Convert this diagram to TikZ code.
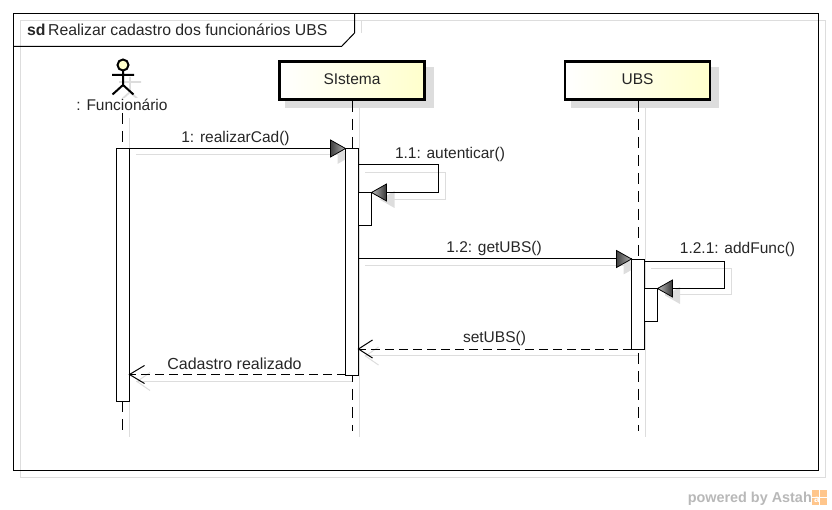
\documentclass[tikz,border=0pt]{standalone}
\usepackage{fontspec}
\setmainfont{Liberation Sans}
\usetikzlibrary{calc}
\definecolor{shad}{HTML}{DDDDDD}
\definecolor{paley}{HTML}{FFFFCC}
\tikzset{
  txt/.style={font=\fontsize{15.5}{18}\selectfont,inner sep=0pt,text=black!85},
  lifebox/.style={draw=black,line width=2.6pt,left color=white,right color=paley,minimum width=145pt,minimum height=38pt,inner sep=0pt,font=\fontsize{15.5}{18}\selectfont,text=black!85},
  act/.style={draw=black,fill=white,line width=0.9pt,minimum width=13pt,inner sep=0pt,outer sep=0pt,anchor=north west},
  msg/.style={draw=black,line width=1pt},
  ret/.style={draw=black,line width=1pt,dash pattern=on 9pt off 5pt},
  life/.style={draw=black,line width=1pt,dash pattern=on 11pt off 7pt},
  sh/.style={draw=shad,line width=1pt},
}
\newcommand{\headR}[1]{% tip right
  \shade[left color=black!75,right color=black!30] (#1)++(-15,-8.5) -- (#1) -- ++(-15,8.5) -- cycle;
  \draw[line width=.8pt,black] (#1)++(-15,-8.5) -- (#1) -- ++(-15,8.5) -- cycle;}
\newcommand{\headL}[1]{% tip left
  \shade[left color=black!25,right color=black!80] (#1)++(15,-8.5) -- (#1) -- ++(15,8.5) -- cycle;
  \draw[line width=.8pt,black] (#1)++(15,-8.5) -- (#1) -- ++(15,8.5) -- cycle;}
\newcommand{\shHeadR}[1]{\fill[shad] (#1)++(-8,-1.5) -- ++(15,8.5) -- ++(-15,8.5) -- cycle;}
\newcommand{\shHeadL}[1]{\fill[shad] (#1)++(22,-1.5) -- ++(-15,8.5) -- ++(15,8.5) -- cycle;}
\begin{document}
\begin{tikzpicture}[x=1pt,y=-1pt]
\useasboundingbox (0,0) rectangle (832,510);
% frame shadow and frame
\draw[sh] (20.5,20.5) rectangle (825.5,477);
\draw[sh] (361,20.5) -- (361,33);
\node[draw=black,line width=1pt,minimum width=805pt,minimum height=457pt,inner sep=0pt,outer sep=0pt,anchor=north west] (frame) at (13.5,13.5) {};
\coordinate (tabtop) at (354.5,13.5);
\coordinate (tabside) at (354.5,33);
\coordinate (tabdiag) at (341.5,46.5);
\coordinate (tableft) at (13.5,46.5);
\draw[black,line width=1pt] (tabtop) -- (tabside) -- (tabdiag) -- (tableft);
\node[txt,anchor=base west,font=\fontsize{15.8}{18}\selectfont] (title) at (27,36) {\textbf{sd}\hspace{2.5pt}Realizar cadastro dos funcionários UBS};
% lifeline shadows
\coordinate (ls1a) at (129.5,118); \coordinate (ls1b) at (129.5,437);
\coordinate (ls2a) at (359.5,108); \coordinate (ls2b) at (359.5,437);
\coordinate (ls3a) at (645.5,108); \coordinate (ls3b) at (645.5,437);
\draw[sh] (ls1a) -- (ls1b); \draw[sh] (ls2a) -- (ls2b); \draw[sh] (ls3a) -- (ls3b);
% box shadows
\fill[shad] (285,67) rectangle (434,108);
\fill[shad] (571,67) rectangle (719,108);
% actor shadow
\draw[shad,line width=1.8pt] (130,77) -- (130,92) (119,82) -- (141,82) (130,92) -- (120,101) (130,92) -- (140,101);
% lifelines
\coordinate (l1a) at (122.5,113); \coordinate (l1b) at (122.5,431);
\coordinate (l2b) at (352.5,431);
\coordinate (l3b) at (638.5,431);
\draw[life] (l1a) -- (l1b);
% lifeline heads
\node[lifebox] (sis) at (352,80.5) {\raisebox{3pt}{SIstema}};
\node[lifebox] (ubs) at (637.5,80.5) {\raisebox{3pt}{UBS}};
\draw[life] (sis.south -| l2b) -- (l2b);
\draw[life] (ubs.south -| l3b) -- (l3b);
% actor
\node[draw=black,fill=paley,circle,line width=2pt,minimum size=11pt,inner sep=0pt] (head) at (123,65) {};
\coordinate (neck) at (123,71);
\coordinate (hip) at (123,85);
\coordinate (armL) at (112,75); \coordinate (armR) at (134,75);
\coordinate (legL) at (112.5,94.5); \coordinate (legR) at (133.5,94.5);
\draw[black,line width=2pt] (neck) -- (hip) (armL) -- (armR) (legL) -- (hip) -- (legR);
\node[fill=white,txt,inner xsep=1pt,inner ysep=1pt] (actlabel) at (122,104.5) {: Funcionário};
% message shadows
\coordinate (m1s) at (136,155); \coordinate (m1e) at (345,155);
\draw[sh] (m1s) -- (m1e);
\coordinate (t1) at (345.5,148.5);
\shHeadR{t1}
\draw[sh] (365,172.5) -- (445.5,172.5) -- (445.5,199.5) -- (380,199.5);
\coordinate (t2) at (372.5,192.5);
\shHeadL{t2}
\draw[sh] (365,266) -- (625,266);
\coordinate (t3) at (631.5,259);
\shHeadR{t3}
\draw[sh] (651,268.5) -- (731,268.5) -- (731,295) -- (665,295);
\coordinate (t4) at (658,288.5);
\shHeadL{t4}
\draw[sh] (365,355.5) -- (638,355.5);
\draw[sh] (136,381) -- (352,381);
\coordinate (t5) at (358.5,349); \coordinate (t6) at (130,374.5);
\draw[shad,line width=1pt] ($(t5)+(20,-2)$) -- ($(t5)+(7,7)$) -- ($(t5)+(20,16)$);
\draw[shad,line width=1pt] ($(t6)+(20,-2)$) -- ($(t6)+(7,7)$) -- ($(t6)+(20,16)$);
% activations
\node[act,minimum height=252.5pt] (a1) at (116.5,148.5) {};
\node[act,minimum height=227pt] (a2) at (345.5,148.5) {};
\node[act,minimum height=33pt] (a2s) at (358.5,192.5) {};
\node[act,minimum height=90pt] (a3) at (631.5,259) {};
\node[act,minimum height=33pt] (a3s) at (644.5,288.5) {};
% messages
\draw[msg] (a1.north east) -- (a2.north west);
\headR{a2.north west}
\coordinate (s1a) at (358.5,165); \coordinate (s1b) at (438.5,165); \coordinate (s1c) at (438.5,192.5);
\draw[msg] (s1a) -- (s1b) -- (s1c) -- (a2s.north east);
\headL{a2s.north east}
\coordinate (m3a) at (358.5,259);
\draw[msg] (m3a) -- (a3.north west);
\headR{a3.north west}
\coordinate (s2a) at (644.5,262); \coordinate (s2b) at (724.5,262); \coordinate (s2c) at (724.5,288.5);
\draw[msg] (s2a) -- (s2b) -- (s2c) -- (a3s.north east);
\headL{a3s.north east}
\coordinate (r1) at (358.5,349); \coordinate (r2) at (129.5,374.5); \coordinate (r2s) at (345.5,374.5);
\draw[ret] (a3.south west) -- (r1);
\draw[ret] (r2s) -- (r2);
\draw[black,line width=1pt] ($(r1)+(14,-9)$) -- (r1) -- ($(r1)+(14,9)$);
\draw[black,line width=1pt] ($(r2)+(15,-9)$) -- (r2) -- ($(r2)+(15,9)$);
% labels
\node[txt,anchor=base] (lb1) at (235.5,143) {1: realizarCad()};
\node[txt,anchor=base] (lb2) at (450,159) {1.1: autenticar()};
\node[txt,anchor=base] (lb3) at (494,253) {1.2: getUBS()};
\node[txt,anchor=base] (lb4) at (737.5,254) {1.2.1: addFunc()};
\node[txt,anchor=base] (lb5) at (494.5,342) {setUBS()};
\node[txt,anchor=base,font=\fontsize{16}{18}\selectfont] (lb6) at (234.5,369) {Cadastro realizado};
% watermark
\node[inner sep=0pt,anchor=base east,font=\bfseries\fontsize{14.4}{16}\selectfont,text=black!28] (pw) at (812,502) {powered by Astah};
\fill[orange!45] (812,490) rectangle (827,505);
\draw[white,line width=1pt] (812,497.5) -- (827,497.5) (819,490) -- (819,505);
\node[inner sep=0pt,anchor=center,font=\bfseries\fontsize{10}{10}\selectfont,text=white] (alogo) at (817,500) {a};
\end{tikzpicture}
\end{document}
